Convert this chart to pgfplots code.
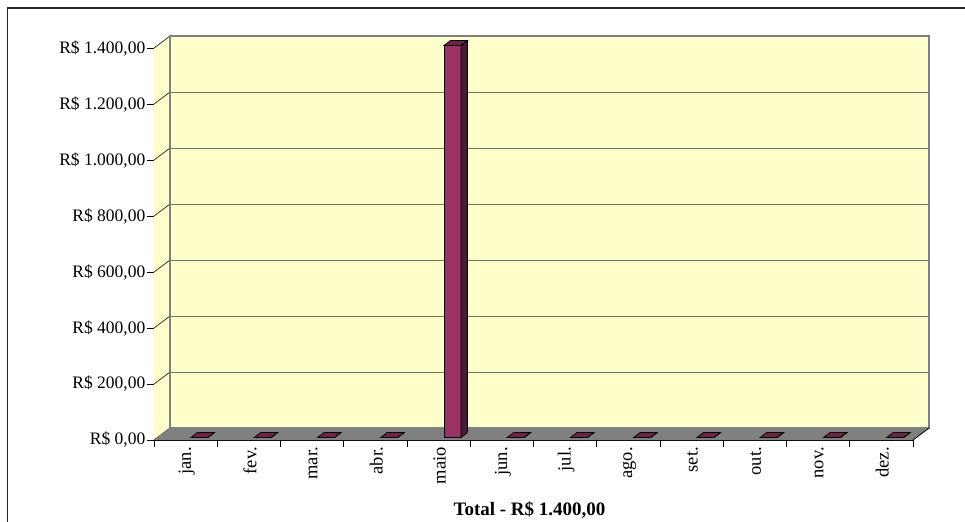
\documentclass[border=0pt]{standalone}
\usepackage{pgfplots}
\pgfplotsset{compat=1.18}
\usepackage{pgfplotstable}
\usepackage{fontspec}
\setmainfont{Liberation Serif}

\definecolor{parede}{HTML}{FFFFCC}
\definecolor{piso}{HTML}{808080}
\definecolor{grade}{HTML}{727260}
\definecolor{barra}{HTML}{993366}
\definecolor{topo}{HTML}{6E2448}
\definecolor{lado}{HTML}{4D1A33}

% valores mensais (x = centro da categoria)
\pgfplotstableread{
x v
0.5 0
1.5 0
2.5 0
3.5 0
4.5 1400
5.5 0
6.5 0
7.5 0
8.5 0
9.5 0
10.5 0
11.5 0
}\dados

\begin{document}
\begin{tikzpicture}
\useasboundingbox (0,0) rectangle (965bp,-522bp);
\draw[line width=1.6bp, black!85] (7.5bp,-522bp) -- (7.5bp,-8bp) -- (965bp,-8bp);
\begin{axis}[
    at={(154bp,-440bp)}, anchor=south west,
    x=63.25bp, y=0.28bp,
    xmin=0, xmax=12, ymin=0, ymax=1400,
    clip=false,
    axis lines=left,
    axis line style={-, black, line width=0.8bp},
    tick align=outside,
    major tick length=7bp, minor tick length=7bp,
    tick style={black, line width=0.8bp},
    ytick={0,200,...,1400},
    yticklabels={{R\$ 0,00},{R\$ 200,00},{R\$ 400,00},{R\$ 600,00},{R\$ 800,00},{R\$ 1.000,00},{R\$ 1.200,00},{R\$ 1.400,00}},
    yticklabel style={font=\fontsize{17.5bp}{20bp}\selectfont, inner sep=1.5bp},
    xtick={0.5,1.5,...,11.5},
    xticklabels={jan.,fev.,mar.,abr.,maio,jun.,jul.,ago.,set.,out.,nov.,dez.},
    minor xtick={0,1,...,12},
    every major x tick/.append style={draw=none},
    xticklabel style={rotate=90, anchor=east, inner sep=0pt, yshift=-1bp, font=\fontsize{18.5bp}{21bp}\selectfont},
    xlabel={Total - R\$ 1.400,00},
    xlabel style={font=\fontsize{19bp}{22bp}\selectfont\bfseries, at={(axis description cs:0.5,0)}, anchor=center, xshift=-4bp, yshift=-70bp},
]
% parede lateral
\fill[parede] (axis cs:0,0) -- ([shift={(16bp,12bp)}]axis cs:0,0) -- ([shift={(16bp,12bp)}]axis cs:0,1400) -- (axis cs:0,1400) -- cycle;
\pgfplotsinvokeforeach{0,200,400,600,800,1000,1200,1400}{
  \draw[black!80, line width=0.8bp] (axis cs:0,#1) -- ++(16bp,12bp);
}
% parede do fundo
\filldraw[fill=parede, draw=gray, line width=1.2bp] ([shift={(16bp,12bp)}]axis cs:0,0) rectangle ([shift={(16bp,12bp)}]axis cs:12,1400);
\pgfplotsinvokeforeach{200,400,600,800,1000,1200}{
  \draw[grade, line width=1bp] ([shift={(16bp,12bp)}]axis cs:0,#1) -- ([shift={(16bp,12bp)}]axis cs:12,#1);
}
% piso
\fill[piso] (axis cs:0,0) -- (axis cs:12,0) -- ([shift={(16bp,12bp)}]axis cs:12,0) -- ([shift={(16bp,12bp)}]axis cs:0,0) -- cycle;
\draw[black, line width=0.8bp] (axis cs:12,0) -- ++(16bp,12bp);

% face da frente
\addplot[ybar, bar width=17bp, bar shift=13.9bp, yshift=2.5bp,
    fill=barra, draw=black, line width=0.8bp] table[x=x, y=v]{\dados};
% topo e lateral das colunas
\addplot[scatter, only marks, mark=*, mark size=0pt, mark options={draw=none},
    visualization depends on={\thisrow{v} \as \val},
    scatter/@pre marker code/.code={%
      \pgfmathsetmacro\h{\val*0.28}%
      \filldraw[fill=topo, draw=black, line width=0.8bp] (5.4bp,2.5bp) -- (22.4bp,2.5bp) -- (28.9bp,7.5bp) -- (11.9bp,7.5bp) -- cycle;
      \filldraw[fill=lado, draw=black, line width=0.8bp] (22.4bp,2.5bp) -- (28.9bp,7.5bp) -- (28.9bp,{7.5bp-\h bp}) -- (22.4bp,{2.5bp-\h bp}) -- cycle;
    },
    scatter/@post marker code/.code={},
] table[x=x, y=v]{\dados};
\end{axis}
\end{tikzpicture}
\end{document}
